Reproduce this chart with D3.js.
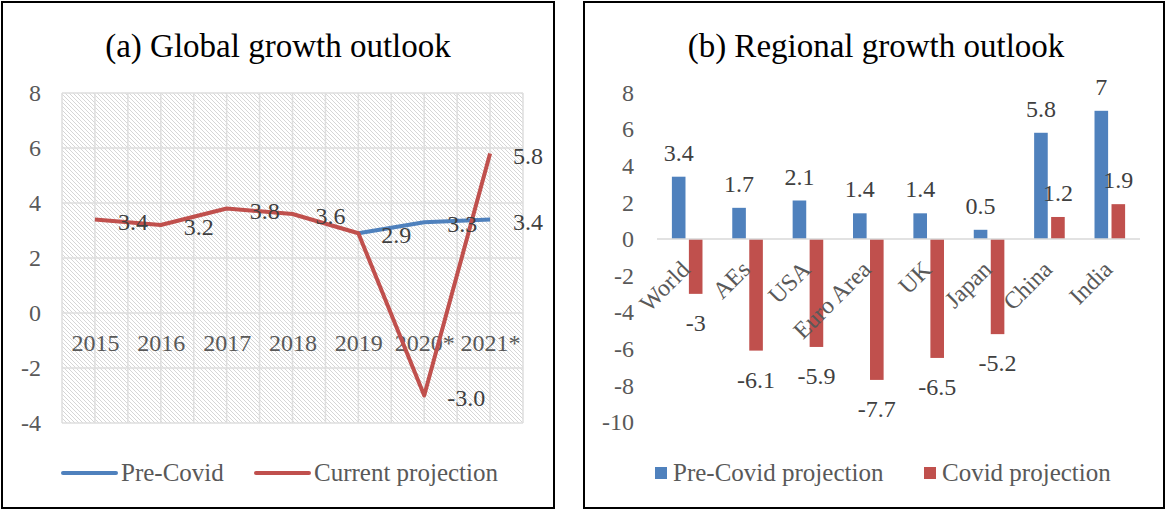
<!DOCTYPE html>
<html>
<head>
    <meta charset="utf-8">
    <title>Growth outlook</title>
    <style>
        body { margin: 0; background: #fff; }
        text { font-family: "Liberation Serif", serif; }
    </style>
</head>
<body>
    <script src="https://cdnjs.cloudflare.com/ajax/libs/d3/7.9.0/d3.min.js"></script>
    <script>

        // (a) global growth
        const years = ["2015", "2016", "2017", "2018", "2019", "2020*", "2021*"];
        const preCovid = [null, null, null, null, 2.9, 3.3, 3.4];
        const current = [3.4, 3.2, 3.8, 3.6, 2.9, -3.0, 5.8];
        const preCovidLabelYears = ["2020*", "2021*"];
        const yTicksA = [-4, -2, 0, 2, 4, 6, 8];

        // (b) regional growth
        const regions = ["World", "AEs", "USA", "Euro Area", "UK", "Japan", "China", "India"];
        const preCovidProj = [3.4, 1.7, 2.1, 1.4, 1.4, 0.5, 5.8, 7];
        const covidProj = [-3, -6.1, -5.9, -7.7, -6.5, -5.2, 1.2, 1.9];
        const yTicksB = [-10, -8, -6, -4, -2, 0, 2, 4, 6, 8];

        const blue = "#4f81bd";
        const red = "#c0504d";
        const axisGrey = "#595959";
        const labelGrey = "#404040";

        const width = 1168;
        const height = 510;

        const svg = d3.select("body")
            .append("svg")
            .attr("width", width)
            .attr("height", height);

        const defs = svg.append("defs");
        const pat = defs.append("pattern")
            .attr("id", "hatch")
            .attr("width", 4)
            .attr("height", 4)
            .attr("patternUnits", "userSpaceOnUse");
        pat.append("rect").attr("width", 4).attr("height", 4).attr("fill", "#fff");
        pat.append("path")
            .attr("d", "M-1,-1L5,5M-1,3L1,5M3,-1L5,1")
            .attr("stroke", "#d6d6d6")
            .attr("stroke-width", 1);

        // panel frames
        svg.append("rect")
            .attr("x", 2).attr("y", 2).attr("width", 552).attr("height", 506)
            .attr("fill", "none").attr("stroke", "#000").attr("stroke-width", 2);
        svg.append("rect")
            .attr("x", 584).attr("y", 2).attr("width", 580).attr("height", 506)
            .attr("fill", "none").attr("stroke", "#000").attr("stroke-width", 2);

        // ---------- panel (a) ----------
        const plotA = {left: 62, right: 523, top: 93, bottom: 423};

        const xA = d3.scalePoint()
            .domain(years)
            .range([plotA.left, plotA.right])
            .padding(0.5);
        const bandA = d3.scaleBand()
            .domain(years)
            .range([plotA.left, plotA.right]);
        const yA = d3.scaleLinear()
            .domain([-4, 8])
            .range([plotA.bottom, plotA.top]);

        const gA = svg.append("g");

        gA.append("text")
            .attr("x", 278).attr("y", 57)
            .attr("text-anchor", "middle")
            .attr("font-size", "33px")
            .attr("fill", "#000")
            .text("(a) Global growth outlook");

        gA.append("rect")
            .attr("x", plotA.left).attr("y", plotA.top)
            .attr("width", plotA.right - plotA.left)
            .attr("height", plotA.bottom - plotA.top)
            .attr("fill", "url(#hatch)");

        // vertical gridlines: category edges and centres
        const vLines = [];
        years.forEach(d => {
            vLines.push(bandA(d));
            vLines.push(bandA(d) + bandA.bandwidth() / 2);
        });
        vLines.push(plotA.right);

        gA.selectAll(".vgrid")
            .data(vLines)
            .enter()
            .append("line")
            .attr("x1", d => d).attr("x2", d => d)
            .attr("y1", plotA.top).attr("y2", plotA.bottom)
            .attr("stroke", "#dedede")
            .attr("stroke-width", 1.5);

        gA.selectAll(".hgrid")
            .data(yTicksA)
            .enter()
            .append("line")
            .attr("x1", plotA.left).attr("x2", plotA.right)
            .attr("y1", d => yA(d)).attr("y2", d => yA(d))
            .attr("stroke", "#dedede")
            .attr("stroke-width", 1.5);

        // y axis labels (plain hyphen for negatives, like the original)
        gA.append("g")
            .attr("transform", "translate(41,0)")
            .call(d3.axisLeft(yA).tickValues(yTicksA).tickSize(0).tickPadding(0).tickFormat(d => String(d)))
            .call(g => g.select(".domain").remove())
            .selectAll("text")
            .attr("font-family", "Liberation Serif")
            .attr("font-size", "24px")
            .attr("fill", axisGrey);

        // category labels sit on the zero line
        gA.append("g")
            .attr("transform", `translate(0,${yA(0)})`)
            .call(d3.axisBottom(xA).tickSize(0).tickPadding(21))
            .call(g => g.select(".domain").remove())
            .selectAll("text")
            .attr("font-family", "Liberation Serif")
            .attr("font-size", "24px")
            .attr("fill", axisGrey);

        const line = d3.line()
            .defined(d => d.v !== null)
            .x(d => xA(d.year))
            .y(d => yA(d.v));

        const preData = years.map((y, i) => ({year: y, v: preCovid[i]}));
        const curData = years.map((y, i) => ({year: y, v: current[i]}));

        gA.append("path")
            .datum(preData)
            .attr("d", line)
            .attr("fill", "none")
            .attr("stroke", blue)
            .attr("stroke-width", 4)
            .attr("stroke-linejoin", "round");

        gA.append("path")
            .datum(curData)
            .attr("d", line)
            .attr("fill", "none")
            .attr("stroke", red)
            .attr("stroke-width", 4)
            .attr("stroke-linejoin", "round");

        const lineLabels = curData.concat(preData.filter(d => preCovidLabelYears.includes(d.year)));

        gA.selectAll(".lbl")
            .data(lineLabels)
            .enter()
            .append("text")
            .attr("x", d => xA(d.year) + 23)
            .attr("y", d => yA(d.v) + 10)
            .attr("font-size", "24px")
            .attr("fill", labelGrey)
            .text(d => d.v.toFixed(1));

        // legend (a)
        const legA = [
            {name: "Pre-Covid", color: blue, x: 63},
            {name: "Current projection", color: red, x: 256}
        ];
        const lgA = gA.selectAll(".leg")
            .data(legA)
            .enter()
            .append("g")
            .attr("transform", d => `translate(${d.x},473)`);
        lgA.append("line")
            .attr("x1", 0).attr("x2", 53)
            .attr("stroke", d => d.color)
            .attr("stroke-width", 4)
            .attr("stroke-linecap", "round");
        lgA.append("text")
            .attr("x", 58).attr("y", 8)
            .attr("font-size", "25px")
            .attr("fill", axisGrey)
            .text(d => d.name);

        // ---------- panel (b) ----------
        const plotB = {left: 657, right: 1140, top: 92.5, bottom: 422};

        const xB = d3.scaleBand()
            .domain(regions)
            .range([plotB.left, plotB.right]);
        const xB1 = d3.scaleBand()
            .domain(["pre", "covid"])
            .range([xB.bandwidth() / 2 - 15.3, xB.bandwidth() / 2 + 15.3])
            .paddingInner(0.2);
        const yB = d3.scaleLinear()
            .domain([-10, 8])
            .range([plotB.bottom, plotB.top]);

        const gB = svg.append("g");

        gB.append("text")
            .attr("x", 876).attr("y", 57)
            .attr("text-anchor", "middle")
            .attr("font-size", "33px")
            .attr("fill", "#000")
            .text("(b) Regional growth outlook");

        gB.append("g")
            .attr("transform", "translate(634,0)")
            .call(d3.axisLeft(yB).tickValues(yTicksB).tickSize(0).tickPadding(0).tickFormat(d => String(d)))
            .call(g => g.select(".domain").remove())
            .selectAll("text")
            .attr("font-family", "Liberation Serif")
            .attr("font-size", "24px")
            .attr("fill", axisGrey);

        const barData = [];
        regions.forEach((r, i) => {
            barData.push({region: r, key: "pre", v: preCovidProj[i], color: blue});
            barData.push({region: r, key: "covid", v: covidProj[i], color: red});
        });

        gB.selectAll(".bar")
            .data(barData)
            .enter()
            .append("rect")
            .attr("x", d => xB(d.region) + xB1(d.key))
            .attr("y", d => yB(Math.max(0, d.v)))
            .attr("width", xB1.bandwidth())
            .attr("height", d => Math.abs(yB(d.v) - yB(0)))
            .attr("fill", d => d.color);

        gB.append("line")
            .attr("x1", plotB.left).attr("x2", plotB.right)
            .attr("y1", yB(0)).attr("y2", yB(0))
            .attr("stroke", "#d9d9d9")
            .attr("stroke-width", 1.5);

        gB.selectAll(".blbl")
            .data(barData)
            .enter()
            .append("text")
            .attr("x", d => xB(d.region) + xB1(d.key) + xB1.bandwidth() / 2)
            .attr("y", d => d.v >= 0 ? yB(d.v) - 16 : yB(d.v) + 37)
            .attr("text-anchor", "middle")
            .attr("font-size", "24px")
            .attr("fill", labelGrey)
            .text(d => String(d.v));

        // rotated category labels
        gB.append("g")
            .attr("transform", `translate(0,${yB(0)})`)
            .call(d3.axisBottom(xB).tickSize(0))
            .call(g => g.select(".domain").remove())
            .selectAll("text")
            .attr("x", 0).attr("y", 0).attr("dy", 0)
            .attr("transform", "translate(4,32) rotate(-45)")
            .attr("text-anchor", "end")
            .attr("font-family", "Liberation Serif")
            .attr("font-size", "24px")
            .attr("fill", axisGrey);

        // legend (b)
        const legB = [
            {name: "Pre-Covid projection", color: blue, x: 655},
            {name: "Covid projection", color: red, x: 924}
        ];
        const lgB = gB.selectAll(".legb")
            .data(legB)
            .enter()
            .append("g")
            .attr("transform", d => `translate(${d.x},473)`);
        lgB.append("rect")
            .attr("x", 0).attr("y", -6)
            .attr("width", 12).attr("height", 12)
            .attr("fill", d => d.color);
        lgB.append("text")
            .attr("x", 18).attr("y", 8)
            .attr("font-size", "25px")
            .attr("fill", axisGrey)
            .text(d => d.name);

    </script>
</body>
</html>
